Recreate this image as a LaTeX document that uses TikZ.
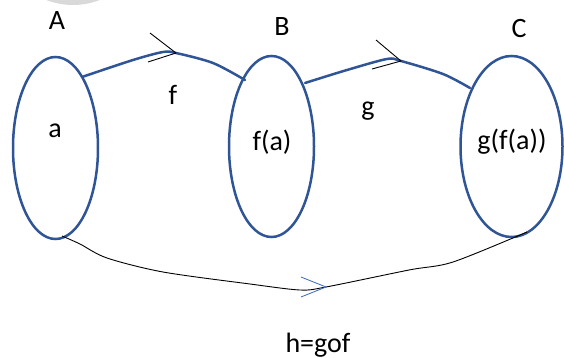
\documentclass[tikz,border=0pt]{standalone}
\usepackage{fontspec}
\setmainfont{Carlito}
\usetikzlibrary{shapes.geometric}
\definecolor{setblue}{HTML}{2F5597}
\definecolor{tipblue}{HTML}{4472C4}
\definecolor{blobgray}{HTML}{D9D9D9}
\begin{document}
\begin{tikzpicture}[x=1pt,y=-1pt,
  setshape/.style={ellipse,draw=setblue,line width=2.5pt,inner sep=0pt},
  maplabel/.style={font=\fontsize{28}{33}\selectfont,inner sep=0pt,anchor=center},
  mapline/.style={setblue,line width=2.5pt,line join=round,line cap=round},
  comp/.style={black,line width=0.9pt},
  chevblack/.style={black,line width=0.9pt},
  chevblue/.style={tipblue,line width=0.9pt}]
\useasboundingbox (0,0) rectangle (564,358);
\begin{scope}
\clip (0,0) rectangle (564,358);
\fill[blobgray] (73,-68) circle[radius=73];
\end{scope}
% sets
\node[setshape,minimum width=85pt,minimum height=182pt] (A) at (55.5,148) {};
\node[setshape,minimum width=85pt,minimum height=181pt] (B) at (271.5,146.5) {};
\node[setshape,minimum width=102pt,minimum height=181pt] (C) at (511.5,146.5) {};
% labels
\node[maplabel] (lA) at (57,21) {A};
\node[maplabel] (lB) at (282,27) {B};
\node[maplabel] (lC) at (519,29) {C};
\node[maplabel] (la) at (55,131) {a};
\node[maplabel] (lfa) at (272,142) {f(a)};
\node[maplabel] (lgfa) at (512,142) {g(f(a))};
\node[maplabel] (lf) at (173,95) {f};
\node[maplabel] (lg) at (368,111) {g};
\node[maplabel] (lh) at (318,345) {h=gof};
% f arrow
\coordinate (f0) at (82,77);
\coordinate (ftip) at (176,53);
\coordinate (f1) at (245,80);
\draw[mapline] plot[smooth,tension=0.5] coordinates {(f0) (133,60) (163,52) (ftip) (213,63) (f1)};
\draw[chevblack] (150,33) -- (ftip) -- (148,62);
% g arrow
\coordinate (g0) at (305,83);
\coordinate (gtip) at (401,61);
\coordinate (g1) at (470,88);
\draw[mapline] plot[smooth,tension=0.5] coordinates {(g0) (347,70) (387,59) (gtip) (443,74) (g1)};
\draw[chevblack] (376,40) -- (gtip) -- (372,69);
% composite
\coordinate (h0) at (62,236);
\coordinate (htip) at (326,287);
\coordinate (h1) at (527,232);
\draw[comp] plot[smooth,tension=0.5] coordinates {(h0) (80,244) (107,258) (163,272) (250,284) (300,290) (htip) (409,270) (453,262) (h1)};
\draw[chevblue] (301,277) -- (htip) -- (301,297);
\end{tikzpicture}
\end{document}
